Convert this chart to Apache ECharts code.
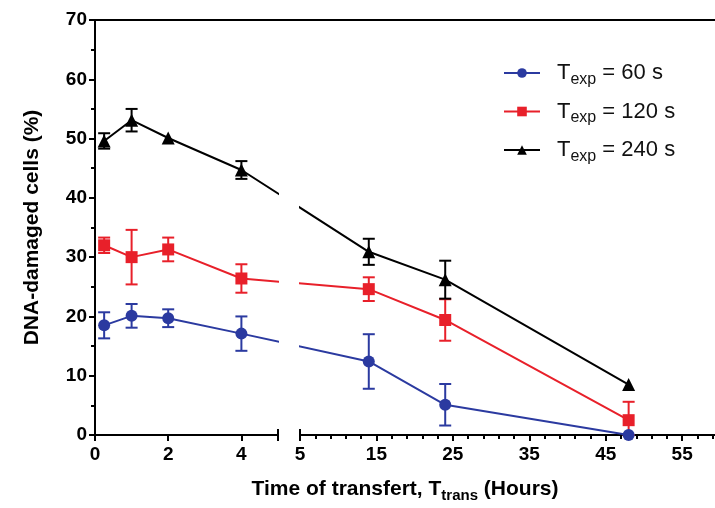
<!DOCTYPE html>
<html>
<head>
<meta charset="utf-8">
<script src="https://cdn.jsdelivr.net/npm/echarts@6/dist/echarts.min.js"></script>
<style>
  html, body { margin: 0; padding: 0; background: #fff; }
  #chart { width: 715px; height: 508px; }
</style>
</head>
<body>
<div id="chart"></div>
<script>
// time of transfer (hours) and % DNA-damaged cells, mean and error
const hours = [0.25, 1, 2, 4, 14, 24, 48];
const dmg60 = [18.5, 20.1, 19.7, 17.1, 12.4, 5.1, 0];
const err60 = [2.2, 2.0, 1.5, 2.9, 4.6, 3.5, 0];
const dmg120 = [32.0, 30.0, 31.3, 26.4, 24.6, 19.4, 2.5];
const err120 = [1.3, 4.6, 2.0, 2.4, 2.0, 3.5, 3.1];
const dmg240 = [49.6, 53.1, 50.1, 44.7, 30.9, 26.2, 8.5];
const err240 = [1.3, 1.9, 0, 1.5, 2.2, 3.2, 0];
const seriesNames = ["T_exp = 60 s", "T_exp = 120 s", "T_exp = 240 s"];

const leftTicks = [0, 2, 4];
const rightTicks = [5, 15, 25, 35, 45, 55];
const yTicks = [0, 10, 20, 30, 40, 50, 60, 70];

// broken x axis: 0-5 h on the left, 5-59 h on the right
const LEFT_X0 = 95, LEFT_W = 183;
const RIGHT_X0 = 300, RIGHT_W = 415;
const RIGHT_MAX = 59.3;
const L = LEFT_W / 5;
const R = RIGHT_W / (RIGHT_MAX - 5);

// express an hour value in the units of the other panel, so the segment
// that crosses the break stays straight (it is clipped by each grid)
function toLeft(h) {
  if (h <= 5) return h;
  return (RIGHT_X0 + (h - 5) * R - LEFT_X0) / L;
}
function toRight(h) {
  if (h >= 5) return h;
  return 5 + (LEFT_X0 + h * L - RIGHT_X0) / R;
}

const minorTicks = [];
for (let t = 7; t < RIGHT_MAX; t += 2) {
  if ((t - 5) % 10 !== 0) minorTicks.push(t);
}

const font = "Liberation Sans, Arial, sans-serif";
const colors = ["#2b3aa0", "#e8202a", "#000000"];
const symbols = ["circle", "rect", "triangle"];
const sizes = [12, 12, 13];
const values = [dmg60, dmg120, dmg240];
const errors = [err60, err120, err240];

function errBars(color) {
  return function (params, api) {
    const e = api.value(2);
    if (!e) return null;
    const x = api.value(0), y = api.value(1);
    const top = api.coord([x, y + e]);
    const bot = api.coord([x, Math.max(0, y - e)]);
    const hw = 6;
    const st = { stroke: color, lineWidth: 2 };
    return {
      type: "group",
      children: [
        { type: "line", shape: { x1: top[0], y1: top[1], x2: bot[0], y2: bot[1] }, style: st },
        { type: "line", shape: { x1: top[0] - hw, y1: top[1], x2: top[0] + hw, y2: top[1] }, style: st },
        { type: "line", shape: { x1: bot[0] - hw, y1: bot[1], x2: bot[0] + hw, y2: bot[1] }, style: st },
      ],
    };
  };
}

const series = [];
seriesNames.forEach((name, k) => {
  const common = {
    name: name,
    type: "line",
    symbol: symbols[k],
    symbolSize: sizes[k],
    clip: true,
    z: 3,
    itemStyle: { color: colors[k] },
    lineStyle: { color: colors[k], width: 2 },
  };
  series.push(Object.assign({}, common, {
    xAxisIndex: 0, yAxisIndex: 0,
    data: hours.map((h, i) => [toLeft(h), values[k][i]]),
  }));
  series.push(Object.assign({}, common, {
    xAxisIndex: 1, yAxisIndex: 1,
    data: hours.map((h, i) => [toRight(h), values[k][i]]),
  }));
  series.push({
    type: "custom", xAxisIndex: 0, yAxisIndex: 0, z: 2,
    renderItem: errBars(colors[k]),
    data: hours.map((h, i) => [h, values[k][i], errors[k][i]]).filter(d => d[0] <= 5),
  });
  series.push({
    type: "custom", xAxisIndex: 1, yAxisIndex: 1, z: 2,
    renderItem: errBars(colors[k]),
    data: hours.map((h, i) => [h, values[k][i], errors[k][i]]).filter(d => d[0] > 5),
  });
});

const axisLine = { show: true, onZero: false, lineStyle: { color: "#000", width: 2 } };
const noLine = { show: false, onZero: false };
const tickLabel = { color: "#000", fontSize: 19, fontWeight: "bold", fontFamily: font };
const tickStyle = { color: "#000", width: 2 };

const chart = echarts.init(document.getElementById("chart"));
chart.setOption({
  animation: false,
  textStyle: { fontFamily: font },
  grid: [
    { left: LEFT_X0, top: 20, width: LEFT_W, height: 415 },
    { left: RIGHT_X0, top: 20, width: RIGHT_W, height: 415 },
    { left: LEFT_X0, top: 20, right: 0, height: 415 },
  ],
  legend: {
    data: seriesNames,
    orient: "vertical",
    left: 498,
    top: 57,
    itemWidth: 36,
    itemHeight: 12,
    itemGap: 13,
    formatter: (n) => "{p|T}{s|exp}{t|" + n.slice(5) + "}",
    textStyle: {
      rich: {
        p: { fontSize: 22, color: "#111", fontFamily: font, padding: [0, 0, 0, 12] },
        t: { fontSize: 22, color: "#111", fontFamily: font },
        s: { fontSize: 16, color: "#111", fontFamily: font, padding: [13, 0, 0, 0] },
      },
    },
  },
  xAxis: [
    {
      gridIndex: 0, type: "value", position: "bottom", min: 0, max: 5,
      axisLine: axisLine,
      axisTick: { customValues: [0, 2, 4, 5], length: 6, lineStyle: tickStyle },
      axisLabel: Object.assign({ customValues: leftTicks, margin: 10 }, tickLabel),
      splitLine: { show: false },
    },
    {
      gridIndex: 1, type: "value", position: "bottom", min: 5, max: RIGHT_MAX,
      axisLine: axisLine,
      axisTick: { customValues: rightTicks, length: 6, lineStyle: tickStyle },
      axisLabel: Object.assign({ customValues: rightTicks, margin: 10 }, tickLabel),
      splitLine: { show: false },
    },
    {
      gridIndex: 1, type: "value", position: "bottom", min: 5, max: RIGHT_MAX,
      axisLine: noLine,
      axisTick: { customValues: minorTicks, length: 4, lineStyle: tickStyle },
      axisLabel: { show: false },
      splitLine: { show: false },
    },
    {
      gridIndex: 0, type: "value", position: "bottom", min: 0, max: 5,
      axisLine: noLine,
      axisTick: { customValues: [5], inside: true, length: 6, lineStyle: tickStyle },
      axisLabel: { show: false },
      splitLine: { show: false },
    },
    {
      gridIndex: 1, type: "value", position: "bottom", min: 5, max: RIGHT_MAX,
      axisLine: noLine,
      axisTick: { customValues: [5], inside: true, length: 6, lineStyle: tickStyle },
      axisLabel: { show: false },
      splitLine: { show: false },
    },
    {
      gridIndex: 2, type: "value", position: "top", min: 0, max: 1,
      axisLine: axisLine,
      axisTick: { show: false }, axisLabel: { show: false }, splitLine: { show: false },
    },
    {
      gridIndex: 2, type: "value", position: "bottom", min: 0, max: 1,
      axisLine: noLine,
      axisTick: { show: false }, axisLabel: { show: false }, splitLine: { show: false },
      name: "{a|Time of transfert, T}{b|trans}{a| (Hours)}",
      nameLocation: "middle",
      nameGap: 44,
      nameTextStyle: {
        rich: {
          a: { fontSize: 21, fontWeight: "bold", color: "#000", fontFamily: font, padding: [10, 0, 0, 0] },
          b: { fontSize: 15, fontWeight: "bold", color: "#000", fontFamily: font, padding: [22, 0, 0, 0] },
        },
      },
    },
  ],
  yAxis: [
    {
      gridIndex: 0, type: "value", min: 0, max: 70, interval: 10,
      axisLine: axisLine,
      axisTick: { length: 6, lineStyle: tickStyle },
      minorTick: { show: true, splitNumber: 2, length: 4, lineStyle: tickStyle },
      axisLabel: Object.assign({ customValues: yTicks, margin: 8 }, tickLabel),
      splitLine: { show: false },
      name: "DNA-damaged cells (%)",
      nameLocation: "middle",
      nameGap: 52,
      nameTextStyle: { fontSize: 21, fontWeight: "bold", color: "#000", fontFamily: font },
    },
    { gridIndex: 1, type: "value", min: 0, max: 70, show: false },
    { gridIndex: 2, type: "value", min: 0, max: 70, show: false },
  ],
  series: series,
});
</script>
</body>
</html>
